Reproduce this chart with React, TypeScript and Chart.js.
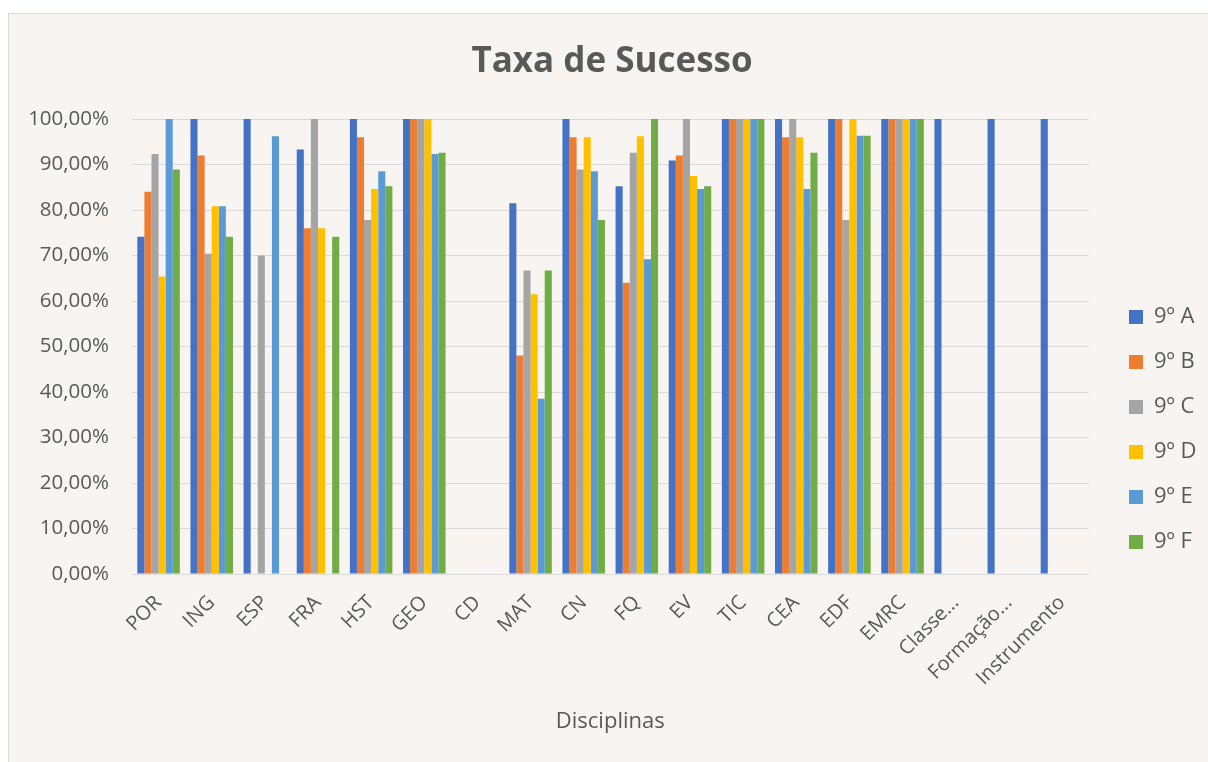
import React, { useEffect, useRef } from "react";
import { Chart, registerables } from "chart.js";

Chart.register(...registerables);

const categories = ["POR", "ING", "ESP", "FRA", "HST", "GEO", "CD", "MAT", "CN", "FQ", "EV", "TIC", "CEA", "EDF", "EMRC", "Classe...", "Formação...", "Instrumento"];
const seriesNames = ["9º A", "9º B", "9º C", "9º D", "9º E", "9º F"];
const turmaA = [74.1, 100, 100, 93.3, 100, 100, null, 81.5, 100, 85.2, 90.9, 100, 100, 100, 100, 100, 100, 100];
const turmaB = [84.0, 92.0, null, 76.0, 96.0, 100, null, 48.0, 96.0, 64.0, 92.0, 100, 96.0, 100, 100, null, null, null];
const turmaC = [92.3, 70.4, 70.0, 100, 77.8, 100, null, 66.7, 88.9, 92.6, 100, 100, 100, 77.8, 100, null, null, null];
const turmaD = [65.4, 80.8, null, 76.0, 84.6, 100, null, 61.5, 96.0, 96.2, 87.5, 100, 96.0, 100, 100, null, null, null];
const turmaE = [100, 80.8, 96.2, null, 88.5, 92.3, null, 38.5, 88.5, 69.2, 84.6, 100, 84.6, 96.3, 100, null, null, null];
const turmaF = [88.9, 74.1, null, 74.1, 85.2, 92.6, null, 66.7, 77.8, 100, 85.2, 100, 92.6, 96.3, 100, null, null, null];
const colors = ["#4472C4", "#ED7D31", "#A5A5A5", "#FFC000", "#5B9BD5", "#70AD47"];
const yTicks = [0, 10, 20, 30, 40, 50, 60, 70, 80, 90, 100];

const FONT = "'Open Sans', 'Noto Sans', sans-serif";
const TEXT = "#595959";

export default function App() {
  const ref = useRef<HTMLCanvasElement | null>(null);
  useEffect(() => {
    document.body.style.overflow = "hidden";
    const canvas = ref.current;
    if (!canvas) return;
    const allSeries = [turmaA, turmaB, turmaC, turmaD, turmaE, turmaF];
    const placeBlocks = {
      id: "placeBlocks",
      afterLayout(chart: any) {
        const l = chart.legend;
        if (l) {
          const w = l.width;
          l.left = 1097;
          l.right = 1097 + w;
          l.top = 269;
          l.bottom = 269 + 470;
        }
        const t = chart.titleBlock;
        if (t) {
          t.left = 0;
          t.right = 1206;
        }
      },
    };
    const chart = new Chart(canvas, {
      type: "bar",
      data: {
        labels: categories,
        datasets: allSeries.map((d, i) => ({
          label: seriesNames[i],
          data: d,
          backgroundColor: colors[i],
          borderWidth: 0,
          barPercentage: 1,
          categoryPercentage: 0.8,
        })),
      },
      options: {
        responsive: false,
        animation: false,
        layout: { padding: { left: 0, right: 19, top: 0, bottom: 27 } },
        plugins: {
          title: {
            display: true,
            text: "Taxa de Sucesso",
            color: TEXT,
            font: { family: FONT, size: 35, weight: "bold" },
            padding: { top: 27, bottom: 36 },
          },
          legend: {
            position: "right",
            align: "start",
            labels: {
              boxWidth: 14,
              boxHeight: 14,
              padding: 23,
              color: TEXT,
              font: { family: FONT, size: 22 },
            },
          },
          tooltip: { enabled: false },
        },
        scales: {
          x: {
            afterFit(axis: any) {
              axis.paddingLeft = 0;
              axis.paddingRight = 0;
              axis.height = 161;
            },
            grid: { display: false, drawTicks: false },
            border: { display: true, color: "#D9D9D9", width: 1 },
            ticks: {
              color: TEXT,
              font: { family: FONT, size: 20 },
              maxRotation: 45,
              minRotation: 45,
              autoSkip: false,
              padding: 17,
            },
            title: {
              display: true,
              text: "Disciplinas",
              color: TEXT,
              font: { family: FONT, size: 22 },
              padding: { top: 8, bottom: 0 },
            },
          },
          y: {
            min: 0,
            max: 100,
            afterBuildTicks(axis: any) {
              axis.ticks = yTicks.map((v) => ({ value: v }));
            },
            afterFit(axis: any) {
              axis.width = 123;
            },
            grid: { color: "#D9D9D9", lineWidth: 1, drawTicks: false },
            border: { display: false },
            ticks: {
              color: TEXT,
              font: { family: FONT, size: 20.5 },
              padding: 23,
              callback: (v: any) => Number(v).toFixed(2).replace(".", ",") + "%",
            },
          },
        },
      },
      plugins: [placeBlocks],
    });
    return () => chart.destroy();
  }, []);
  return (
    <div
      style={{
        position: "absolute",
        left: 8,
        top: 13,
        width: 1199,
        height: 748,
        borderTop: "1px solid #D9D9D9",
        borderLeft: "1px solid #D9D9D9",
        background: "#F7F4F1",
      }}
    >
      <canvas ref={ref} width={1199} height={748} style={{ display: "block" }} />
    </div>
  );
}
